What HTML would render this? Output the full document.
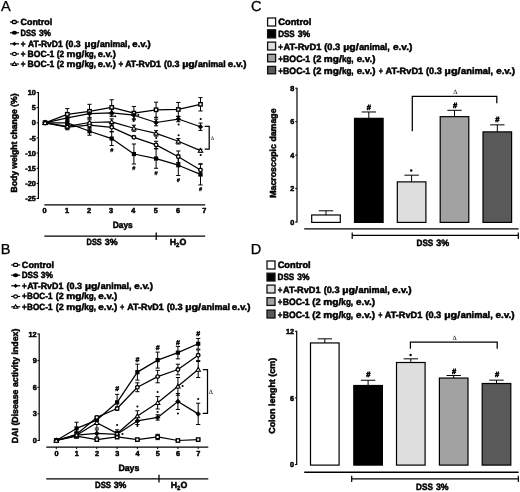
<!DOCTYPE html>
<html lang="en">
<head>
<meta charset="utf-8">
<title>Figure</title>
<style>
html,body{margin:0;padding:0;background:#fff;}
body{width:520px;height:492px;overflow:hidden;font-family:'Liberation Sans', sans-serif;}
svg{display:block;}
svg text{font-family:'Liberation Sans',sans-serif;}
</style>
</head>
<body>
<svg width="520" height="492" viewBox="0 0 520 492" text-rendering="geometricPrecision">
<rect x="0" y="0" width="520" height="492" fill="#ffffff"/>
<text x="1.00" y="11.30" font-size="14.5" font-weight="normal" text-anchor="start" fill="#000" stroke="#000" stroke-width="0.3" stroke-linejoin="round">A</text>
<line x1="9.90" y1="22.00" x2="18.90" y2="22.00" stroke="#000" stroke-width="1.2" stroke-linecap="butt"/>
<rect x="12.30" y="20.50" width="4.0" height="3.0" rx="1" fill="#fff" stroke="#000" stroke-width="1.3"/>
<text y="24.80" font-size="9.0" font-weight="bold" fill="#000" stroke="#000" stroke-width="0.5" stroke-linejoin="round"><tspan x="20.59" textLength="31.62" lengthAdjust="spacingAndGlyphs">Control</tspan></text>
<line x1="10.00" y1="32.80" x2="19.00" y2="32.80" stroke="#000" stroke-width="1.2" stroke-linecap="butt"/>
<ellipse cx="14.40" cy="32.80" rx="2.6" ry="2.0" fill="#000"/>
<text y="35.60" font-size="9.0" font-weight="bold" fill="#000" stroke="#000" stroke-width="0.5" stroke-linejoin="round"><tspan x="20.56" textLength="15.57" lengthAdjust="spacingAndGlyphs">DSS</tspan> <tspan x="38.94" textLength="12.12" lengthAdjust="spacingAndGlyphs">3%</tspan></text>
<line x1="10.00" y1="43.80" x2="19.00" y2="43.80" stroke="#000" stroke-width="1.2" stroke-linecap="butt"/>
<polygon points="14.40,41.70 16.60,43.80 14.40,45.90 12.20,43.80" fill="#000"/>
<text y="46.60" font-size="9.0" font-weight="bold" fill="#000" stroke="#000" stroke-width="0.5" stroke-linejoin="round"><tspan x="20.73" textLength="4.74" lengthAdjust="spacingAndGlyphs">+</tspan> <tspan x="27.94" textLength="34.75" lengthAdjust="spacingAndGlyphs">AT-RvD1</tspan> <tspan x="65.61" textLength="15.07" lengthAdjust="spacingAndGlyphs">(0.3</tspan> <tspan x="84.59" textLength="14.89" lengthAdjust="spacingAndGlyphs">µg/</tspan><tspan x="100.00" textLength="29.92" lengthAdjust="spacingAndGlyphs">animal,</tspan> <tspan x="132.37" textLength="18.43" lengthAdjust="spacingAndGlyphs">e.v.)</tspan></text>
<line x1="10.00" y1="53.90" x2="19.00" y2="53.90" stroke="#000" stroke-width="1.2" stroke-linecap="butt"/>
<ellipse cx="14.40" cy="53.90" rx="1.9" ry="1.6" fill="#fff" stroke="#000" stroke-width="1.2"/>
<text y="56.70" font-size="9.0" font-weight="bold" fill="#000" stroke="#000" stroke-width="0.5" stroke-linejoin="round"><tspan x="20.73" textLength="4.74" lengthAdjust="spacingAndGlyphs">+</tspan> <tspan x="27.59" textLength="26.74" lengthAdjust="spacingAndGlyphs">BOC-1</tspan> <tspan x="56.73" textLength="7.45" lengthAdjust="spacingAndGlyphs">(2</tspan> <tspan x="66.60" textLength="17.76" lengthAdjust="spacingAndGlyphs">mg/</tspan><tspan x="84.42" textLength="11.60" lengthAdjust="spacingAndGlyphs">kg,</tspan> <tspan x="97.78" textLength="18.01" lengthAdjust="spacingAndGlyphs">e.v.)</tspan></text>
<line x1="10.00" y1="64.00" x2="19.00" y2="64.00" stroke="#000" stroke-width="1.2" stroke-linecap="butt"/>
<polygon points="14.40,62.00 16.50,65.50 12.30,65.50" fill="#fff" stroke="#000" stroke-width="1.1"/>
<text y="66.80" font-size="9.0" font-weight="bold" fill="#000" stroke="#000" stroke-width="0.5" stroke-linejoin="round"><tspan x="20.73" textLength="4.74" lengthAdjust="spacingAndGlyphs">+</tspan> <tspan x="27.59" textLength="26.74" lengthAdjust="spacingAndGlyphs">BOC-1</tspan> <tspan x="56.73" textLength="7.45" lengthAdjust="spacingAndGlyphs">(2</tspan> <tspan x="66.60" textLength="17.76" lengthAdjust="spacingAndGlyphs">mg/</tspan><tspan x="84.42" textLength="11.60" lengthAdjust="spacingAndGlyphs">kg,</tspan> <tspan x="97.78" textLength="18.01" lengthAdjust="spacingAndGlyphs">e.v.)</tspan> <tspan x="118.43" textLength="4.74" lengthAdjust="spacingAndGlyphs">+</tspan> <tspan x="125.18" textLength="35.82" lengthAdjust="spacingAndGlyphs">AT-RvD1</tspan> <tspan x="163.95" textLength="15.49" lengthAdjust="spacingAndGlyphs">(0.3</tspan> <tspan x="182.17" textLength="15.32" lengthAdjust="spacingAndGlyphs">µg/</tspan><tspan x="197.98" textLength="27.61" lengthAdjust="spacingAndGlyphs">animal</tspan> <tspan x="227.86" textLength="18.69" lengthAdjust="spacingAndGlyphs">e.v.)</tspan></text>
<line x1="38.40" y1="92.00" x2="38.40" y2="199.05" stroke="#000" stroke-width="1.2" stroke-linecap="butt"/>
<line x1="36.60" y1="92.50" x2="38.40" y2="92.50" stroke="#000" stroke-width="1.0" stroke-linecap="butt"/>
<text x="35.90" y="95.10" font-size="7.3" font-weight="bold" text-anchor="end" fill="#000" stroke="#000" stroke-width="0.5" stroke-linejoin="round">10</text>
<line x1="36.60" y1="107.65" x2="38.40" y2="107.65" stroke="#000" stroke-width="1.0" stroke-linecap="butt"/>
<text x="35.90" y="110.25" font-size="7.3" font-weight="bold" text-anchor="end" fill="#000" stroke="#000" stroke-width="0.5" stroke-linejoin="round">5</text>
<line x1="36.60" y1="122.80" x2="38.40" y2="122.80" stroke="#000" stroke-width="1.0" stroke-linecap="butt"/>
<text x="35.90" y="125.40" font-size="7.3" font-weight="bold" text-anchor="end" fill="#000" stroke="#000" stroke-width="0.5" stroke-linejoin="round">0</text>
<line x1="36.60" y1="137.95" x2="38.40" y2="137.95" stroke="#000" stroke-width="1.0" stroke-linecap="butt"/>
<text x="35.90" y="140.55" font-size="7.3" font-weight="bold" text-anchor="end" fill="#000" stroke="#000" stroke-width="0.5" stroke-linejoin="round">-5</text>
<line x1="36.60" y1="153.10" x2="38.40" y2="153.10" stroke="#000" stroke-width="1.0" stroke-linecap="butt"/>
<text x="35.90" y="155.70" font-size="7.3" font-weight="bold" text-anchor="end" fill="#000" stroke="#000" stroke-width="0.5" stroke-linejoin="round">-10</text>
<line x1="36.60" y1="168.25" x2="38.40" y2="168.25" stroke="#000" stroke-width="1.0" stroke-linecap="butt"/>
<text x="35.90" y="170.85" font-size="7.3" font-weight="bold" text-anchor="end" fill="#000" stroke="#000" stroke-width="0.5" stroke-linejoin="round">-15</text>
<line x1="36.60" y1="183.40" x2="38.40" y2="183.40" stroke="#000" stroke-width="1.0" stroke-linecap="butt"/>
<text x="35.90" y="186.00" font-size="7.3" font-weight="bold" text-anchor="end" fill="#000" stroke="#000" stroke-width="0.5" stroke-linejoin="round">-20</text>
<line x1="36.60" y1="198.55" x2="38.40" y2="198.55" stroke="#000" stroke-width="1.0" stroke-linecap="butt"/>
<text x="35.90" y="201.15" font-size="7.3" font-weight="bold" text-anchor="end" fill="#000" stroke="#000" stroke-width="0.5" stroke-linejoin="round">-25</text>
<line x1="44.30" y1="204.80" x2="205.20" y2="204.80" stroke="#000" stroke-width="1.3" stroke-linecap="butt"/>
<text x="44.60" y="213.30" font-size="7.3" font-weight="bold" text-anchor="middle" fill="#000" stroke="#000" stroke-width="0.5" stroke-linejoin="round">0</text>
<text x="67.00" y="213.30" font-size="7.3" font-weight="bold" text-anchor="middle" fill="#000" stroke="#000" stroke-width="0.5" stroke-linejoin="round">1</text>
<text x="89.00" y="213.30" font-size="7.3" font-weight="bold" text-anchor="middle" fill="#000" stroke="#000" stroke-width="0.5" stroke-linejoin="round">2</text>
<text x="111.00" y="213.30" font-size="7.3" font-weight="bold" text-anchor="middle" fill="#000" stroke="#000" stroke-width="0.5" stroke-linejoin="round">3</text>
<text x="133.20" y="213.30" font-size="7.3" font-weight="bold" text-anchor="middle" fill="#000" stroke="#000" stroke-width="0.5" stroke-linejoin="round">4</text>
<text x="155.70" y="213.30" font-size="7.3" font-weight="bold" text-anchor="middle" fill="#000" stroke="#000" stroke-width="0.5" stroke-linejoin="round">5</text>
<text x="178.00" y="213.30" font-size="7.3" font-weight="bold" text-anchor="middle" fill="#000" stroke="#000" stroke-width="0.5" stroke-linejoin="round">6</text>
<text x="204.20" y="213.30" font-size="7.3" font-weight="bold" text-anchor="middle" fill="#000" stroke="#000" stroke-width="0.5" stroke-linejoin="round">7</text>
<text y="228.00" font-size="9.0" font-weight="bold" fill="#000" stroke="#000" stroke-width="0.5" stroke-linejoin="round"><tspan x="112.71" textLength="19.98" lengthAdjust="spacingAndGlyphs">Days</tspan></text>
<text transform="translate(17.00,143.00) rotate(-90)" font-size="8.8" font-weight="bold" text-anchor="middle" fill="#000" stroke="#000" stroke-width="0.5" stroke-linejoin="round" textLength="99.00" lengthAdjust="spacingAndGlyphs">Body weight change (%)</text>
<line x1="44.30" y1="236.20" x2="205.20" y2="236.20" stroke="#000" stroke-width="1.2" stroke-linecap="butt"/>
<line x1="156.20" y1="232.40" x2="156.20" y2="240.00" stroke="#000" stroke-width="1.3" stroke-linecap="butt"/>
<text y="245.40" font-size="9.0" font-weight="bold" fill="#000" stroke="#000" stroke-width="0.5" stroke-linejoin="round"><tspan x="86.57" textLength="15.15" lengthAdjust="spacingAndGlyphs">DSS</tspan> <tspan x="104.68" textLength="12.90" lengthAdjust="spacingAndGlyphs">3%</tspan></text>
<text x="178" y="245.2" font-size="8.8" font-weight="bold" text-anchor="middle" fill="#000" stroke="#000" stroke-width="0.5">H<tspan font-size="6" dy="1.6">2</tspan><tspan dy="-1.6">O</tspan></text>
<line x1="67.30" y1="108.56" x2="67.30" y2="120.07" stroke="#000" stroke-width="1.0" stroke-linecap="butt"/>
<line x1="65.20" y1="108.56" x2="69.40" y2="108.56" stroke="#000" stroke-width="1.0" stroke-linecap="butt"/>
<line x1="65.20" y1="120.07" x2="69.40" y2="120.07" stroke="#000" stroke-width="1.0" stroke-linecap="butt"/>
<line x1="89.50" y1="104.32" x2="89.50" y2="118.25" stroke="#000" stroke-width="1.0" stroke-linecap="butt"/>
<line x1="87.40" y1="104.32" x2="91.60" y2="104.32" stroke="#000" stroke-width="1.0" stroke-linecap="butt"/>
<line x1="87.40" y1="118.25" x2="91.60" y2="118.25" stroke="#000" stroke-width="1.0" stroke-linecap="butt"/>
<line x1="111.70" y1="99.77" x2="111.70" y2="114.92" stroke="#000" stroke-width="1.0" stroke-linecap="butt"/>
<line x1="109.60" y1="99.77" x2="113.80" y2="99.77" stroke="#000" stroke-width="1.0" stroke-linecap="butt"/>
<line x1="109.60" y1="114.92" x2="113.80" y2="114.92" stroke="#000" stroke-width="1.0" stroke-linecap="butt"/>
<line x1="133.90" y1="106.44" x2="133.90" y2="119.77" stroke="#000" stroke-width="1.0" stroke-linecap="butt"/>
<line x1="131.80" y1="106.44" x2="136.00" y2="106.44" stroke="#000" stroke-width="1.0" stroke-linecap="butt"/>
<line x1="131.80" y1="119.77" x2="136.00" y2="119.77" stroke="#000" stroke-width="1.0" stroke-linecap="butt"/>
<line x1="156.10" y1="102.20" x2="156.10" y2="117.35" stroke="#000" stroke-width="1.0" stroke-linecap="butt"/>
<line x1="154.00" y1="102.20" x2="158.20" y2="102.20" stroke="#000" stroke-width="1.0" stroke-linecap="butt"/>
<line x1="154.00" y1="117.35" x2="158.20" y2="117.35" stroke="#000" stroke-width="1.0" stroke-linecap="butt"/>
<line x1="178.30" y1="102.50" x2="178.30" y2="116.44" stroke="#000" stroke-width="1.0" stroke-linecap="butt"/>
<line x1="176.20" y1="102.50" x2="180.40" y2="102.50" stroke="#000" stroke-width="1.0" stroke-linecap="butt"/>
<line x1="176.20" y1="116.44" x2="180.40" y2="116.44" stroke="#000" stroke-width="1.0" stroke-linecap="butt"/>
<line x1="200.50" y1="97.65" x2="200.50" y2="110.98" stroke="#000" stroke-width="1.0" stroke-linecap="butt"/>
<line x1="198.40" y1="97.65" x2="202.60" y2="97.65" stroke="#000" stroke-width="1.0" stroke-linecap="butt"/>
<line x1="198.40" y1="110.98" x2="202.60" y2="110.98" stroke="#000" stroke-width="1.0" stroke-linecap="butt"/>
<line x1="67.30" y1="119.77" x2="67.30" y2="125.83" stroke="#000" stroke-width="1.0" stroke-linecap="butt"/>
<line x1="65.20" y1="119.77" x2="69.40" y2="119.77" stroke="#000" stroke-width="1.0" stroke-linecap="butt"/>
<line x1="65.20" y1="125.83" x2="69.40" y2="125.83" stroke="#000" stroke-width="1.0" stroke-linecap="butt"/>
<line x1="89.50" y1="127.34" x2="89.50" y2="135.22" stroke="#000" stroke-width="1.0" stroke-linecap="butt"/>
<line x1="87.40" y1="127.34" x2="91.60" y2="127.34" stroke="#000" stroke-width="1.0" stroke-linecap="butt"/>
<line x1="87.40" y1="135.22" x2="91.60" y2="135.22" stroke="#000" stroke-width="1.0" stroke-linecap="butt"/>
<line x1="111.70" y1="131.59" x2="111.70" y2="145.53" stroke="#000" stroke-width="1.0" stroke-linecap="butt"/>
<line x1="109.60" y1="131.59" x2="113.80" y2="131.59" stroke="#000" stroke-width="1.0" stroke-linecap="butt"/>
<line x1="109.60" y1="145.53" x2="113.80" y2="145.53" stroke="#000" stroke-width="1.0" stroke-linecap="butt"/>
<line x1="133.90" y1="144.01" x2="133.90" y2="164.01" stroke="#000" stroke-width="1.0" stroke-linecap="butt"/>
<line x1="131.80" y1="144.01" x2="136.00" y2="144.01" stroke="#000" stroke-width="1.0" stroke-linecap="butt"/>
<line x1="131.80" y1="164.01" x2="136.00" y2="164.01" stroke="#000" stroke-width="1.0" stroke-linecap="butt"/>
<line x1="156.10" y1="148.86" x2="156.10" y2="168.25" stroke="#000" stroke-width="1.0" stroke-linecap="butt"/>
<line x1="154.00" y1="148.86" x2="158.20" y2="148.86" stroke="#000" stroke-width="1.0" stroke-linecap="butt"/>
<line x1="154.00" y1="168.25" x2="158.20" y2="168.25" stroke="#000" stroke-width="1.0" stroke-linecap="butt"/>
<line x1="178.30" y1="154.92" x2="178.30" y2="175.52" stroke="#000" stroke-width="1.0" stroke-linecap="butt"/>
<line x1="176.20" y1="154.92" x2="180.40" y2="154.92" stroke="#000" stroke-width="1.0" stroke-linecap="butt"/>
<line x1="176.20" y1="175.52" x2="180.40" y2="175.52" stroke="#000" stroke-width="1.0" stroke-linecap="butt"/>
<line x1="200.50" y1="163.70" x2="200.50" y2="184.91" stroke="#000" stroke-width="1.0" stroke-linecap="butt"/>
<line x1="198.40" y1="163.70" x2="202.60" y2="163.70" stroke="#000" stroke-width="1.0" stroke-linecap="butt"/>
<line x1="198.40" y1="184.91" x2="202.60" y2="184.91" stroke="#000" stroke-width="1.0" stroke-linecap="butt"/>
<line x1="67.30" y1="114.92" x2="67.30" y2="120.98" stroke="#000" stroke-width="1.0" stroke-linecap="butt"/>
<line x1="65.20" y1="114.92" x2="69.40" y2="114.92" stroke="#000" stroke-width="1.0" stroke-linecap="butt"/>
<line x1="65.20" y1="120.98" x2="69.40" y2="120.98" stroke="#000" stroke-width="1.0" stroke-linecap="butt"/>
<line x1="89.50" y1="110.07" x2="89.50" y2="117.35" stroke="#000" stroke-width="1.0" stroke-linecap="butt"/>
<line x1="87.40" y1="110.07" x2="91.60" y2="110.07" stroke="#000" stroke-width="1.0" stroke-linecap="butt"/>
<line x1="87.40" y1="117.35" x2="91.60" y2="117.35" stroke="#000" stroke-width="1.0" stroke-linecap="butt"/>
<line x1="111.70" y1="109.16" x2="111.70" y2="116.44" stroke="#000" stroke-width="1.0" stroke-linecap="butt"/>
<line x1="109.60" y1="109.16" x2="113.80" y2="109.16" stroke="#000" stroke-width="1.0" stroke-linecap="butt"/>
<line x1="109.60" y1="116.44" x2="113.80" y2="116.44" stroke="#000" stroke-width="1.0" stroke-linecap="butt"/>
<line x1="133.90" y1="111.59" x2="133.90" y2="118.86" stroke="#000" stroke-width="1.0" stroke-linecap="butt"/>
<line x1="131.80" y1="111.59" x2="136.00" y2="111.59" stroke="#000" stroke-width="1.0" stroke-linecap="butt"/>
<line x1="131.80" y1="118.86" x2="136.00" y2="118.86" stroke="#000" stroke-width="1.0" stroke-linecap="butt"/>
<line x1="156.10" y1="119.16" x2="156.10" y2="125.83" stroke="#000" stroke-width="1.0" stroke-linecap="butt"/>
<line x1="154.00" y1="119.16" x2="158.20" y2="119.16" stroke="#000" stroke-width="1.0" stroke-linecap="butt"/>
<line x1="154.00" y1="125.83" x2="158.20" y2="125.83" stroke="#000" stroke-width="1.0" stroke-linecap="butt"/>
<line x1="178.30" y1="116.29" x2="178.30" y2="121.74" stroke="#000" stroke-width="1.0" stroke-linecap="butt"/>
<line x1="176.20" y1="116.29" x2="180.40" y2="116.29" stroke="#000" stroke-width="1.0" stroke-linecap="butt"/>
<line x1="176.20" y1="121.74" x2="180.40" y2="121.74" stroke="#000" stroke-width="1.0" stroke-linecap="butt"/>
<line x1="200.50" y1="123.10" x2="200.50" y2="130.38" stroke="#000" stroke-width="1.0" stroke-linecap="butt"/>
<line x1="198.40" y1="123.10" x2="202.60" y2="123.10" stroke="#000" stroke-width="1.0" stroke-linecap="butt"/>
<line x1="198.40" y1="130.38" x2="202.60" y2="130.38" stroke="#000" stroke-width="1.0" stroke-linecap="butt"/>
<line x1="67.30" y1="124.31" x2="67.30" y2="129.77" stroke="#000" stroke-width="1.0" stroke-linecap="butt"/>
<line x1="65.20" y1="124.31" x2="69.40" y2="124.31" stroke="#000" stroke-width="1.0" stroke-linecap="butt"/>
<line x1="65.20" y1="129.77" x2="69.40" y2="129.77" stroke="#000" stroke-width="1.0" stroke-linecap="butt"/>
<line x1="89.50" y1="122.19" x2="89.50" y2="128.25" stroke="#000" stroke-width="1.0" stroke-linecap="butt"/>
<line x1="87.40" y1="122.19" x2="91.60" y2="122.19" stroke="#000" stroke-width="1.0" stroke-linecap="butt"/>
<line x1="87.40" y1="128.25" x2="91.60" y2="128.25" stroke="#000" stroke-width="1.0" stroke-linecap="butt"/>
<line x1="111.70" y1="122.80" x2="111.70" y2="131.89" stroke="#000" stroke-width="1.0" stroke-linecap="butt"/>
<line x1="109.60" y1="122.80" x2="113.80" y2="122.80" stroke="#000" stroke-width="1.0" stroke-linecap="butt"/>
<line x1="109.60" y1="131.89" x2="113.80" y2="131.89" stroke="#000" stroke-width="1.0" stroke-linecap="butt"/>
<line x1="133.90" y1="136.44" x2="133.90" y2="138.25" stroke="#000" stroke-width="1.0" stroke-linecap="butt"/>
<line x1="131.80" y1="136.44" x2="136.00" y2="136.44" stroke="#000" stroke-width="1.0" stroke-linecap="butt"/>
<line x1="131.80" y1="138.25" x2="136.00" y2="138.25" stroke="#000" stroke-width="1.0" stroke-linecap="butt"/>
<line x1="156.10" y1="141.28" x2="156.10" y2="148.56" stroke="#000" stroke-width="1.0" stroke-linecap="butt"/>
<line x1="154.00" y1="141.28" x2="158.20" y2="141.28" stroke="#000" stroke-width="1.0" stroke-linecap="butt"/>
<line x1="154.00" y1="148.56" x2="158.20" y2="148.56" stroke="#000" stroke-width="1.0" stroke-linecap="butt"/>
<line x1="178.30" y1="150.98" x2="178.30" y2="162.49" stroke="#000" stroke-width="1.0" stroke-linecap="butt"/>
<line x1="176.20" y1="150.98" x2="180.40" y2="150.98" stroke="#000" stroke-width="1.0" stroke-linecap="butt"/>
<line x1="176.20" y1="162.49" x2="180.40" y2="162.49" stroke="#000" stroke-width="1.0" stroke-linecap="butt"/>
<line x1="200.50" y1="164.31" x2="200.50" y2="175.82" stroke="#000" stroke-width="1.0" stroke-linecap="butt"/>
<line x1="198.40" y1="164.31" x2="202.60" y2="164.31" stroke="#000" stroke-width="1.0" stroke-linecap="butt"/>
<line x1="198.40" y1="175.82" x2="202.60" y2="175.82" stroke="#000" stroke-width="1.0" stroke-linecap="butt"/>
<line x1="67.30" y1="124.01" x2="67.30" y2="128.86" stroke="#000" stroke-width="1.0" stroke-linecap="butt"/>
<line x1="65.20" y1="124.01" x2="69.40" y2="124.01" stroke="#000" stroke-width="1.0" stroke-linecap="butt"/>
<line x1="65.20" y1="128.86" x2="69.40" y2="128.86" stroke="#000" stroke-width="1.0" stroke-linecap="butt"/>
<line x1="89.50" y1="119.77" x2="89.50" y2="125.22" stroke="#000" stroke-width="1.0" stroke-linecap="butt"/>
<line x1="87.40" y1="119.77" x2="91.60" y2="119.77" stroke="#000" stroke-width="1.0" stroke-linecap="butt"/>
<line x1="87.40" y1="125.22" x2="91.60" y2="125.22" stroke="#000" stroke-width="1.0" stroke-linecap="butt"/>
<line x1="111.70" y1="118.86" x2="111.70" y2="124.92" stroke="#000" stroke-width="1.0" stroke-linecap="butt"/>
<line x1="109.60" y1="118.86" x2="113.80" y2="118.86" stroke="#000" stroke-width="1.0" stroke-linecap="butt"/>
<line x1="109.60" y1="124.92" x2="113.80" y2="124.92" stroke="#000" stroke-width="1.0" stroke-linecap="butt"/>
<line x1="133.90" y1="125.22" x2="133.90" y2="131.28" stroke="#000" stroke-width="1.0" stroke-linecap="butt"/>
<line x1="131.80" y1="125.22" x2="136.00" y2="125.22" stroke="#000" stroke-width="1.0" stroke-linecap="butt"/>
<line x1="131.80" y1="131.28" x2="136.00" y2="131.28" stroke="#000" stroke-width="1.0" stroke-linecap="butt"/>
<line x1="156.10" y1="130.68" x2="156.10" y2="136.13" stroke="#000" stroke-width="1.0" stroke-linecap="butt"/>
<line x1="154.00" y1="130.68" x2="158.20" y2="130.68" stroke="#000" stroke-width="1.0" stroke-linecap="butt"/>
<line x1="154.00" y1="136.13" x2="158.20" y2="136.13" stroke="#000" stroke-width="1.0" stroke-linecap="butt"/>
<line x1="178.30" y1="138.56" x2="178.30" y2="144.01" stroke="#000" stroke-width="1.0" stroke-linecap="butt"/>
<line x1="176.20" y1="138.56" x2="180.40" y2="138.56" stroke="#000" stroke-width="1.0" stroke-linecap="butt"/>
<line x1="176.20" y1="144.01" x2="180.40" y2="144.01" stroke="#000" stroke-width="1.0" stroke-linecap="butt"/>
<line x1="200.50" y1="149.16" x2="200.50" y2="152.19" stroke="#000" stroke-width="1.0" stroke-linecap="butt"/>
<line x1="198.40" y1="149.16" x2="202.60" y2="149.16" stroke="#000" stroke-width="1.0" stroke-linecap="butt"/>
<line x1="198.40" y1="152.19" x2="202.60" y2="152.19" stroke="#000" stroke-width="1.0" stroke-linecap="butt"/>
<polyline points="45.10,122.80 67.30,114.32 89.50,111.29 111.70,107.35 133.90,113.10 156.10,109.77 178.30,109.47 200.50,104.32" fill="none" stroke="#000" stroke-width="1.25" stroke-linejoin="round"/>
<polyline points="45.10,122.80 67.30,122.80 89.50,131.28 111.70,138.56 133.90,154.01 156.10,158.55 178.30,165.22 200.50,174.31" fill="none" stroke="#000" stroke-width="1.25" stroke-linejoin="round"/>
<polyline points="45.10,122.80 67.30,117.95 89.50,113.71 111.70,112.80 133.90,115.22 156.10,122.50 178.30,119.01 200.50,126.74" fill="none" stroke="#000" stroke-width="1.25" stroke-linejoin="round"/>
<polyline points="45.10,122.80 67.30,127.04 89.50,125.22 111.70,127.34 133.90,137.34 156.10,144.92 178.30,156.74 200.50,170.07" fill="none" stroke="#000" stroke-width="1.25" stroke-linejoin="round"/>
<polyline points="45.10,122.80 67.30,126.44 89.50,122.50 111.70,121.89 133.90,128.25 156.10,133.41 178.30,141.28 200.50,150.68" fill="none" stroke="#000" stroke-width="1.25" stroke-linejoin="round"/>
<rect x="43.40" y="121.10" width="3.40" height="3.40" fill="#fff" stroke="#000" stroke-width="1.35"/>
<rect x="65.60" y="112.62" width="3.40" height="3.40" fill="#fff" stroke="#000" stroke-width="1.35"/>
<rect x="87.80" y="109.59" width="3.40" height="3.40" fill="#fff" stroke="#000" stroke-width="1.35"/>
<rect x="110.00" y="105.65" width="3.40" height="3.40" fill="#fff" stroke="#000" stroke-width="1.35"/>
<rect x="132.20" y="111.40" width="3.40" height="3.40" fill="#fff" stroke="#000" stroke-width="1.35"/>
<rect x="154.40" y="108.07" width="3.40" height="3.40" fill="#fff" stroke="#000" stroke-width="1.35"/>
<rect x="176.60" y="107.77" width="3.40" height="3.40" fill="#fff" stroke="#000" stroke-width="1.35"/>
<rect x="198.80" y="102.62" width="3.40" height="3.40" fill="#fff" stroke="#000" stroke-width="1.35"/>
<rect x="43.00" y="120.70" width="4.20" height="4.20" fill="#000"/>
<rect x="65.20" y="120.70" width="4.20" height="4.20" fill="#000"/>
<rect x="87.40" y="129.18" width="4.20" height="4.20" fill="#000"/>
<rect x="109.60" y="136.46" width="4.20" height="4.20" fill="#000"/>
<rect x="131.80" y="151.91" width="4.20" height="4.20" fill="#000"/>
<rect x="154.00" y="156.45" width="4.20" height="4.20" fill="#000"/>
<rect x="176.20" y="163.12" width="4.20" height="4.20" fill="#000"/>
<rect x="198.40" y="172.21" width="4.20" height="4.20" fill="#000"/>
<polygon points="45.10,120.40 47.50,122.80 45.10,125.20 42.70,122.80" fill="#000" stroke="#000" stroke-width="0.6" stroke-linejoin="round"/>
<polygon points="67.30,115.55 69.70,117.95 67.30,120.35 64.90,117.95" fill="#000" stroke="#000" stroke-width="0.6" stroke-linejoin="round"/>
<polygon points="89.50,111.31 91.90,113.71 89.50,116.11 87.10,113.71" fill="#000" stroke="#000" stroke-width="0.6" stroke-linejoin="round"/>
<polygon points="111.70,110.40 114.10,112.80 111.70,115.20 109.30,112.80" fill="#000" stroke="#000" stroke-width="0.6" stroke-linejoin="round"/>
<polygon points="133.90,112.82 136.30,115.22 133.90,117.62 131.50,115.22" fill="#000" stroke="#000" stroke-width="0.6" stroke-linejoin="round"/>
<polygon points="156.10,120.10 158.50,122.50 156.10,124.90 153.70,122.50" fill="#000" stroke="#000" stroke-width="0.6" stroke-linejoin="round"/>
<polygon points="178.30,116.61 180.70,119.01 178.30,121.41 175.90,119.01" fill="#000" stroke="#000" stroke-width="0.6" stroke-linejoin="round"/>
<polygon points="200.50,124.34 202.90,126.74 200.50,129.14 198.10,126.74" fill="#000" stroke="#000" stroke-width="0.6" stroke-linejoin="round"/>
<circle cx="45.10" cy="122.80" r="1.80" fill="#fff" stroke="#000" stroke-width="1.35"/>
<circle cx="67.30" cy="127.04" r="1.80" fill="#fff" stroke="#000" stroke-width="1.35"/>
<circle cx="89.50" cy="125.22" r="1.80" fill="#fff" stroke="#000" stroke-width="1.35"/>
<circle cx="111.70" cy="127.34" r="1.80" fill="#fff" stroke="#000" stroke-width="1.35"/>
<circle cx="133.90" cy="137.34" r="1.80" fill="#fff" stroke="#000" stroke-width="1.35"/>
<circle cx="156.10" cy="144.92" r="1.80" fill="#fff" stroke="#000" stroke-width="1.35"/>
<circle cx="178.30" cy="156.74" r="1.80" fill="#fff" stroke="#000" stroke-width="1.35"/>
<circle cx="200.50" cy="170.07" r="1.80" fill="#fff" stroke="#000" stroke-width="1.35"/>
<polygon points="45.10,120.60 47.30,124.45 42.90,124.45" fill="#fff" stroke="#000" stroke-width="1.05" stroke-linejoin="miter"/>
<polygon points="67.30,124.24 69.50,128.09 65.10,128.09" fill="#fff" stroke="#000" stroke-width="1.05" stroke-linejoin="miter"/>
<polygon points="89.50,120.30 91.70,124.15 87.30,124.15" fill="#fff" stroke="#000" stroke-width="1.05" stroke-linejoin="miter"/>
<polygon points="111.70,119.69 113.90,123.54 109.50,123.54" fill="#fff" stroke="#000" stroke-width="1.05" stroke-linejoin="miter"/>
<polygon points="133.90,126.05 136.10,129.90 131.70,129.90" fill="#fff" stroke="#000" stroke-width="1.05" stroke-linejoin="miter"/>
<polygon points="156.10,131.21 158.30,135.06 153.90,135.06" fill="#fff" stroke="#000" stroke-width="1.05" stroke-linejoin="miter"/>
<polygon points="178.30,139.08 180.50,142.93 176.10,142.93" fill="#fff" stroke="#000" stroke-width="1.05" stroke-linejoin="miter"/>
<polygon points="200.50,148.48 202.70,152.33 198.30,152.33" fill="#fff" stroke="#000" stroke-width="1.05" stroke-linejoin="miter"/>
<text x="111.70" y="152.10" font-size="5.6" font-weight="bold" text-anchor="middle" fill="#000" stroke="#000" stroke-width="0.3" stroke-linejoin="round">#</text>
<text x="133.90" y="170.30" font-size="5.6" font-weight="bold" text-anchor="middle" fill="#000" stroke="#000" stroke-width="0.3" stroke-linejoin="round">#</text>
<text x="156.10" y="174.60" font-size="5.6" font-weight="bold" text-anchor="middle" fill="#000" stroke="#000" stroke-width="0.3" stroke-linejoin="round">#</text>
<text x="178.30" y="182.40" font-size="5.6" font-weight="bold" text-anchor="middle" fill="#000" stroke="#000" stroke-width="0.3" stroke-linejoin="round">#</text>
<text x="200.50" y="191.30" font-size="5.6" font-weight="bold" text-anchor="middle" fill="#000" stroke="#000" stroke-width="0.3" stroke-linejoin="round">#</text>
<circle cx="115.20" cy="116.20" r="1.05" fill="#000"/>
<circle cx="138.30" cy="115.00" r="1.05" fill="#000"/>
<circle cx="133.70" cy="120.90" r="1.05" fill="#000"/>
<circle cx="156.20" cy="117.60" r="1.05" fill="#000"/>
<circle cx="156.20" cy="138.00" r="1.05" fill="#000"/>
<circle cx="178.60" cy="124.50" r="1.05" fill="#000"/>
<circle cx="178.60" cy="135.30" r="1.05" fill="#000"/>
<circle cx="200.70" cy="119.00" r="1.05" fill="#000"/>
<circle cx="200.70" cy="155.00" r="1.05" fill="#000"/>
<polyline points="204.7,126.3 209.2,126.3 209.2,149.2 204.7,149.2" fill="none" stroke="#000" stroke-width="1.25"/>
<text x="212.40" y="139.80" font-size="5.2" font-weight="normal" text-anchor="middle" fill="#000" style="font-family:'Liberation Serif',serif">Δ</text>
<text x="0.80" y="254.00" font-size="14.5" font-weight="normal" text-anchor="start" fill="#000" stroke="#000" stroke-width="0.3" stroke-linejoin="round">B</text>
<line x1="11.20" y1="264.95" x2="20.20" y2="264.95" stroke="#000" stroke-width="1.2" stroke-linecap="butt"/>
<rect x="13.60" y="263.45" width="4.0" height="3.0" rx="1" fill="#fff" stroke="#000" stroke-width="1.3"/>
<text y="267.75" font-size="9.0" font-weight="bold" fill="#000" stroke="#000" stroke-width="0.5" stroke-linejoin="round"><tspan x="21.89" textLength="32.03" lengthAdjust="spacingAndGlyphs">Control</tspan></text>
<line x1="11.20" y1="275.20" x2="20.20" y2="275.20" stroke="#000" stroke-width="1.2" stroke-linecap="butt"/>
<ellipse cx="15.60" cy="275.20" rx="2.6" ry="2.0" fill="#000"/>
<text y="278.00" font-size="9.0" font-weight="bold" fill="#000" stroke="#000" stroke-width="0.5" stroke-linejoin="round"><tspan x="21.72" textLength="16.67" lengthAdjust="spacingAndGlyphs">DSS</tspan> <tspan x="40.84" textLength="12.23" lengthAdjust="spacingAndGlyphs">3%</tspan></text>
<line x1="11.20" y1="285.80" x2="20.20" y2="285.80" stroke="#000" stroke-width="1.2" stroke-linecap="butt"/>
<polygon points="15.60,283.70 17.80,285.80 15.60,287.90 13.40,285.80" fill="#000"/>
<text y="288.60" font-size="9.0" font-weight="bold" fill="#000" stroke="#000" stroke-width="0.5" stroke-linejoin="round"><tspan x="21.93" textLength="4.74" lengthAdjust="spacingAndGlyphs">+</tspan> <tspan x="27.13" textLength="36.22" lengthAdjust="spacingAndGlyphs">AT-RvD1</tspan> <tspan x="66.45" textLength="15.49" lengthAdjust="spacingAndGlyphs">(0.3</tspan> <tspan x="84.97" textLength="15.30" lengthAdjust="spacingAndGlyphs">µg/</tspan><tspan x="100.80" textLength="30.74" lengthAdjust="spacingAndGlyphs">animal,</tspan> <tspan x="134.26" textLength="18.80" lengthAdjust="spacingAndGlyphs">e.v.)</tspan></text>
<line x1="11.20" y1="296.45" x2="20.20" y2="296.45" stroke="#000" stroke-width="1.2" stroke-linecap="butt"/>
<ellipse cx="15.60" cy="296.45" rx="1.9" ry="1.6" fill="#fff" stroke="#000" stroke-width="1.2"/>
<text y="299.25" font-size="9.0" font-weight="bold" fill="#000" stroke="#000" stroke-width="0.5" stroke-linejoin="round"><tspan x="21.93" textLength="4.74" lengthAdjust="spacingAndGlyphs">+</tspan> <tspan x="27.12" textLength="25.34" lengthAdjust="spacingAndGlyphs">BOC-1</tspan> <tspan x="55.80" textLength="8.00" lengthAdjust="spacingAndGlyphs">(2</tspan> <tspan x="66.24" textLength="18.04" lengthAdjust="spacingAndGlyphs">mg/</tspan><tspan x="84.34" textLength="11.78" lengthAdjust="spacingAndGlyphs">kg,</tspan> <tspan x="98.36" textLength="18.95" lengthAdjust="spacingAndGlyphs">e.v.)</tspan></text>
<line x1="11.20" y1="306.80" x2="20.20" y2="306.80" stroke="#000" stroke-width="1.2" stroke-linecap="butt"/>
<polygon points="15.60,304.80 17.70,308.30 13.50,308.30" fill="#fff" stroke="#000" stroke-width="1.1"/>
<text y="309.60" font-size="9.0" font-weight="bold" fill="#000" stroke="#000" stroke-width="0.5" stroke-linejoin="round"><tspan x="21.93" textLength="4.74" lengthAdjust="spacingAndGlyphs">+</tspan> <tspan x="27.12" textLength="25.34" lengthAdjust="spacingAndGlyphs">BOC-1</tspan> <tspan x="55.80" textLength="8.00" lengthAdjust="spacingAndGlyphs">(2</tspan> <tspan x="66.24" textLength="18.04" lengthAdjust="spacingAndGlyphs">mg/</tspan><tspan x="84.34" textLength="11.78" lengthAdjust="spacingAndGlyphs">kg,</tspan> <tspan x="98.36" textLength="18.95" lengthAdjust="spacingAndGlyphs">e.v.)</tspan> <tspan x="120.13" textLength="3.99" lengthAdjust="spacingAndGlyphs">+</tspan> <tspan x="127.33" textLength="36.37" lengthAdjust="spacingAndGlyphs">AT-RvD1</tspan> <tspan x="166.69" textLength="15.91" lengthAdjust="spacingAndGlyphs">(0.3</tspan> <tspan x="185.20" textLength="15.78" lengthAdjust="spacingAndGlyphs">µg/</tspan><tspan x="201.48" textLength="28.43" lengthAdjust="spacingAndGlyphs">animal</tspan> <tspan x="231.86" textLength="18.69" lengthAdjust="spacingAndGlyphs">e.v.)</tspan></text>
<line x1="39.20" y1="333.50" x2="39.20" y2="441.00" stroke="#000" stroke-width="1.2" stroke-linecap="butt"/>
<line x1="37.40" y1="440.50" x2="39.20" y2="440.50" stroke="#000" stroke-width="1.0" stroke-linecap="butt"/>
<text x="36.70" y="443.10" font-size="7.3" font-weight="bold" text-anchor="end" fill="#000" stroke="#000" stroke-width="0.5" stroke-linejoin="round">0</text>
<line x1="37.40" y1="413.88" x2="39.20" y2="413.88" stroke="#000" stroke-width="1.0" stroke-linecap="butt"/>
<text x="36.70" y="416.48" font-size="7.3" font-weight="bold" text-anchor="end" fill="#000" stroke="#000" stroke-width="0.5" stroke-linejoin="round">3</text>
<line x1="37.40" y1="387.25" x2="39.20" y2="387.25" stroke="#000" stroke-width="1.0" stroke-linecap="butt"/>
<text x="36.70" y="389.85" font-size="7.3" font-weight="bold" text-anchor="end" fill="#000" stroke="#000" stroke-width="0.5" stroke-linejoin="round">6</text>
<line x1="37.40" y1="360.62" x2="39.20" y2="360.62" stroke="#000" stroke-width="1.0" stroke-linecap="butt"/>
<text x="36.70" y="363.23" font-size="7.3" font-weight="bold" text-anchor="end" fill="#000" stroke="#000" stroke-width="0.5" stroke-linejoin="round">9</text>
<line x1="37.40" y1="334.00" x2="39.20" y2="334.00" stroke="#000" stroke-width="1.0" stroke-linecap="butt"/>
<text x="36.70" y="336.60" font-size="7.3" font-weight="bold" text-anchor="end" fill="#000" stroke="#000" stroke-width="0.5" stroke-linejoin="round">12</text>
<line x1="46.20" y1="447.10" x2="208.30" y2="447.10" stroke="#000" stroke-width="1.3" stroke-linecap="butt"/>
<line x1="56.30" y1="447.00" x2="56.30" y2="449.10" stroke="#000" stroke-width="1.0" stroke-linecap="butt"/>
<text x="56.50" y="456.30" font-size="7.3" font-weight="bold" text-anchor="middle" fill="#000" stroke="#000" stroke-width="0.5" stroke-linejoin="round">0</text>
<line x1="76.57" y1="447.00" x2="76.57" y2="449.10" stroke="#000" stroke-width="1.0" stroke-linecap="butt"/>
<text x="76.77" y="456.30" font-size="7.3" font-weight="bold" text-anchor="middle" fill="#000" stroke="#000" stroke-width="0.5" stroke-linejoin="round">1</text>
<line x1="96.84" y1="447.00" x2="96.84" y2="449.10" stroke="#000" stroke-width="1.0" stroke-linecap="butt"/>
<text x="97.04" y="456.30" font-size="7.3" font-weight="bold" text-anchor="middle" fill="#000" stroke="#000" stroke-width="0.5" stroke-linejoin="round">2</text>
<line x1="117.11" y1="447.00" x2="117.11" y2="449.10" stroke="#000" stroke-width="1.0" stroke-linecap="butt"/>
<text x="117.31" y="456.30" font-size="7.3" font-weight="bold" text-anchor="middle" fill="#000" stroke="#000" stroke-width="0.5" stroke-linejoin="round">3</text>
<line x1="137.38" y1="447.00" x2="137.38" y2="449.10" stroke="#000" stroke-width="1.0" stroke-linecap="butt"/>
<text x="137.58" y="456.30" font-size="7.3" font-weight="bold" text-anchor="middle" fill="#000" stroke="#000" stroke-width="0.5" stroke-linejoin="round">4</text>
<line x1="157.65" y1="447.00" x2="157.65" y2="449.10" stroke="#000" stroke-width="1.0" stroke-linecap="butt"/>
<text x="157.85" y="456.30" font-size="7.3" font-weight="bold" text-anchor="middle" fill="#000" stroke="#000" stroke-width="0.5" stroke-linejoin="round">5</text>
<line x1="177.92" y1="447.00" x2="177.92" y2="449.10" stroke="#000" stroke-width="1.0" stroke-linecap="butt"/>
<text x="178.12" y="456.30" font-size="7.3" font-weight="bold" text-anchor="middle" fill="#000" stroke="#000" stroke-width="0.5" stroke-linejoin="round">6</text>
<line x1="198.19" y1="447.00" x2="198.19" y2="449.10" stroke="#000" stroke-width="1.0" stroke-linecap="butt"/>
<text x="198.39" y="456.30" font-size="7.3" font-weight="bold" text-anchor="middle" fill="#000" stroke="#000" stroke-width="0.5" stroke-linejoin="round">7</text>
<text y="470.60" font-size="9.0" font-weight="bold" fill="#000" stroke="#000" stroke-width="0.5" stroke-linejoin="round"><tspan x="118.38" textLength="21.03" lengthAdjust="spacingAndGlyphs">Days</tspan></text>
<text transform="translate(17.80,385.90) rotate(-90)" font-size="8.8" font-weight="bold" text-anchor="middle" fill="#000" stroke="#000" stroke-width="0.5" stroke-linejoin="round" textLength="114.50" lengthAdjust="spacingAndGlyphs">DAI (Disease activity index)</text>
<line x1="46.20" y1="478.80" x2="208.30" y2="478.80" stroke="#000" stroke-width="1.2" stroke-linecap="butt"/>
<line x1="159.00" y1="474.80" x2="159.00" y2="482.60" stroke="#000" stroke-width="1.3" stroke-linecap="butt"/>
<text y="488.10" font-size="9.0" font-weight="bold" fill="#000" stroke="#000" stroke-width="0.5" stroke-linejoin="round"><tspan x="95.04" textLength="15.99" lengthAdjust="spacingAndGlyphs">DSS</tspan> <tspan x="113.73" textLength="12.74" lengthAdjust="spacingAndGlyphs">3%</tspan></text>
<text x="179" y="488.2" font-size="8.8" font-weight="bold" text-anchor="middle" fill="#000" stroke="#000" stroke-width="0.5">H<tspan font-size="6" dy="1.6">2</tspan><tspan dy="-1.6">O</tspan></text>
<line x1="76.57" y1="434.29" x2="76.57" y2="437.84" stroke="#000" stroke-width="1.0" stroke-linecap="butt"/>
<line x1="74.47" y1="434.29" x2="78.67" y2="434.29" stroke="#000" stroke-width="1.0" stroke-linecap="butt"/>
<line x1="74.47" y1="437.84" x2="78.67" y2="437.84" stroke="#000" stroke-width="1.0" stroke-linecap="butt"/>
<line x1="96.84" y1="438.73" x2="96.84" y2="440.50" stroke="#000" stroke-width="1.0" stroke-linecap="butt"/>
<line x1="94.74" y1="438.73" x2="98.94" y2="438.73" stroke="#000" stroke-width="1.0" stroke-linecap="butt"/>
<line x1="94.74" y1="440.50" x2="98.94" y2="440.50" stroke="#000" stroke-width="1.0" stroke-linecap="butt"/>
<line x1="117.11" y1="435.18" x2="117.11" y2="438.73" stroke="#000" stroke-width="1.0" stroke-linecap="butt"/>
<line x1="115.01" y1="435.18" x2="119.21" y2="435.18" stroke="#000" stroke-width="1.0" stroke-linecap="butt"/>
<line x1="115.01" y1="438.73" x2="119.21" y2="438.73" stroke="#000" stroke-width="1.0" stroke-linecap="butt"/>
<line x1="137.38" y1="438.73" x2="137.38" y2="440.50" stroke="#000" stroke-width="1.0" stroke-linecap="butt"/>
<line x1="135.28" y1="438.73" x2="139.48" y2="438.73" stroke="#000" stroke-width="1.0" stroke-linecap="butt"/>
<line x1="135.28" y1="440.50" x2="139.48" y2="440.50" stroke="#000" stroke-width="1.0" stroke-linecap="butt"/>
<line x1="157.65" y1="434.29" x2="157.65" y2="439.61" stroke="#000" stroke-width="1.0" stroke-linecap="butt"/>
<line x1="155.55" y1="434.29" x2="159.75" y2="434.29" stroke="#000" stroke-width="1.0" stroke-linecap="butt"/>
<line x1="155.55" y1="439.61" x2="159.75" y2="439.61" stroke="#000" stroke-width="1.0" stroke-linecap="butt"/>
<line x1="177.92" y1="440.06" x2="177.92" y2="440.94" stroke="#000" stroke-width="1.0" stroke-linecap="butt"/>
<line x1="175.82" y1="440.06" x2="180.02" y2="440.06" stroke="#000" stroke-width="1.0" stroke-linecap="butt"/>
<line x1="175.82" y1="440.94" x2="180.02" y2="440.94" stroke="#000" stroke-width="1.0" stroke-linecap="butt"/>
<line x1="198.19" y1="439.17" x2="198.19" y2="440.06" stroke="#000" stroke-width="1.0" stroke-linecap="butt"/>
<line x1="196.09" y1="439.17" x2="200.29" y2="439.17" stroke="#000" stroke-width="1.0" stroke-linecap="butt"/>
<line x1="196.09" y1="440.06" x2="200.29" y2="440.06" stroke="#000" stroke-width="1.0" stroke-linecap="butt"/>
<line x1="76.57" y1="422.22" x2="76.57" y2="434.64" stroke="#000" stroke-width="1.0" stroke-linecap="butt"/>
<line x1="74.47" y1="422.22" x2="78.67" y2="422.22" stroke="#000" stroke-width="1.0" stroke-linecap="butt"/>
<line x1="74.47" y1="434.64" x2="78.67" y2="434.64" stroke="#000" stroke-width="1.0" stroke-linecap="butt"/>
<line x1="96.84" y1="416.54" x2="96.84" y2="423.64" stroke="#000" stroke-width="1.0" stroke-linecap="butt"/>
<line x1="94.74" y1="416.54" x2="98.94" y2="416.54" stroke="#000" stroke-width="1.0" stroke-linecap="butt"/>
<line x1="94.74" y1="423.64" x2="98.94" y2="423.64" stroke="#000" stroke-width="1.0" stroke-linecap="butt"/>
<line x1="117.11" y1="394.35" x2="117.11" y2="410.32" stroke="#000" stroke-width="1.0" stroke-linecap="butt"/>
<line x1="115.01" y1="394.35" x2="119.21" y2="394.35" stroke="#000" stroke-width="1.0" stroke-linecap="butt"/>
<line x1="115.01" y1="410.32" x2="119.21" y2="410.32" stroke="#000" stroke-width="1.0" stroke-linecap="butt"/>
<line x1="137.38" y1="364.18" x2="137.38" y2="380.15" stroke="#000" stroke-width="1.0" stroke-linecap="butt"/>
<line x1="135.28" y1="364.18" x2="139.48" y2="364.18" stroke="#000" stroke-width="1.0" stroke-linecap="butt"/>
<line x1="135.28" y1="380.15" x2="139.48" y2="380.15" stroke="#000" stroke-width="1.0" stroke-linecap="butt"/>
<line x1="157.65" y1="352.11" x2="157.65" y2="368.08" stroke="#000" stroke-width="1.0" stroke-linecap="butt"/>
<line x1="155.55" y1="352.11" x2="159.75" y2="352.11" stroke="#000" stroke-width="1.0" stroke-linecap="butt"/>
<line x1="155.55" y1="368.08" x2="159.75" y2="368.08" stroke="#000" stroke-width="1.0" stroke-linecap="butt"/>
<line x1="177.92" y1="346.43" x2="177.92" y2="358.85" stroke="#000" stroke-width="1.0" stroke-linecap="butt"/>
<line x1="175.82" y1="346.43" x2="180.02" y2="346.43" stroke="#000" stroke-width="1.0" stroke-linecap="butt"/>
<line x1="175.82" y1="358.85" x2="180.02" y2="358.85" stroke="#000" stroke-width="1.0" stroke-linecap="butt"/>
<line x1="198.19" y1="338.44" x2="198.19" y2="349.09" stroke="#000" stroke-width="1.0" stroke-linecap="butt"/>
<line x1="196.09" y1="338.44" x2="200.29" y2="338.44" stroke="#000" stroke-width="1.0" stroke-linecap="butt"/>
<line x1="196.09" y1="349.09" x2="200.29" y2="349.09" stroke="#000" stroke-width="1.0" stroke-linecap="butt"/>
<line x1="76.57" y1="432.51" x2="76.57" y2="437.84" stroke="#000" stroke-width="1.0" stroke-linecap="butt"/>
<line x1="74.47" y1="432.51" x2="78.67" y2="432.51" stroke="#000" stroke-width="1.0" stroke-linecap="butt"/>
<line x1="74.47" y1="437.84" x2="78.67" y2="437.84" stroke="#000" stroke-width="1.0" stroke-linecap="butt"/>
<line x1="96.84" y1="429.85" x2="96.84" y2="436.95" stroke="#000" stroke-width="1.0" stroke-linecap="butt"/>
<line x1="94.74" y1="429.85" x2="98.94" y2="429.85" stroke="#000" stroke-width="1.0" stroke-linecap="butt"/>
<line x1="94.74" y1="436.95" x2="98.94" y2="436.95" stroke="#000" stroke-width="1.0" stroke-linecap="butt"/>
<line x1="117.11" y1="431.62" x2="117.11" y2="436.95" stroke="#000" stroke-width="1.0" stroke-linecap="butt"/>
<line x1="115.01" y1="431.62" x2="119.21" y2="431.62" stroke="#000" stroke-width="1.0" stroke-linecap="butt"/>
<line x1="115.01" y1="436.95" x2="119.21" y2="436.95" stroke="#000" stroke-width="1.0" stroke-linecap="butt"/>
<line x1="137.38" y1="417.43" x2="137.38" y2="424.52" stroke="#000" stroke-width="1.0" stroke-linecap="butt"/>
<line x1="135.28" y1="417.43" x2="139.48" y2="417.43" stroke="#000" stroke-width="1.0" stroke-linecap="butt"/>
<line x1="135.28" y1="424.52" x2="139.48" y2="424.52" stroke="#000" stroke-width="1.0" stroke-linecap="butt"/>
<line x1="157.65" y1="414.76" x2="157.65" y2="420.09" stroke="#000" stroke-width="1.0" stroke-linecap="butt"/>
<line x1="155.55" y1="414.76" x2="159.75" y2="414.76" stroke="#000" stroke-width="1.0" stroke-linecap="butt"/>
<line x1="155.55" y1="420.09" x2="159.75" y2="420.09" stroke="#000" stroke-width="1.0" stroke-linecap="butt"/>
<line x1="177.92" y1="393.46" x2="177.92" y2="409.44" stroke="#000" stroke-width="1.0" stroke-linecap="butt"/>
<line x1="175.82" y1="393.46" x2="180.02" y2="393.46" stroke="#000" stroke-width="1.0" stroke-linecap="butt"/>
<line x1="175.82" y1="409.44" x2="180.02" y2="409.44" stroke="#000" stroke-width="1.0" stroke-linecap="butt"/>
<line x1="198.19" y1="403.23" x2="198.19" y2="424.52" stroke="#000" stroke-width="1.0" stroke-linecap="butt"/>
<line x1="196.09" y1="403.23" x2="200.29" y2="403.23" stroke="#000" stroke-width="1.0" stroke-linecap="butt"/>
<line x1="196.09" y1="424.52" x2="200.29" y2="424.52" stroke="#000" stroke-width="1.0" stroke-linecap="butt"/>
<line x1="76.57" y1="431.62" x2="76.57" y2="436.95" stroke="#000" stroke-width="1.0" stroke-linecap="butt"/>
<line x1="74.47" y1="431.62" x2="78.67" y2="431.62" stroke="#000" stroke-width="1.0" stroke-linecap="butt"/>
<line x1="74.47" y1="436.95" x2="78.67" y2="436.95" stroke="#000" stroke-width="1.0" stroke-linecap="butt"/>
<line x1="96.84" y1="416.09" x2="96.84" y2="418.76" stroke="#000" stroke-width="1.0" stroke-linecap="butt"/>
<line x1="94.74" y1="416.09" x2="98.94" y2="416.09" stroke="#000" stroke-width="1.0" stroke-linecap="butt"/>
<line x1="94.74" y1="418.76" x2="98.94" y2="418.76" stroke="#000" stroke-width="1.0" stroke-linecap="butt"/>
<line x1="117.11" y1="407.22" x2="117.11" y2="409.88" stroke="#000" stroke-width="1.0" stroke-linecap="butt"/>
<line x1="115.01" y1="407.22" x2="119.21" y2="407.22" stroke="#000" stroke-width="1.0" stroke-linecap="butt"/>
<line x1="115.01" y1="409.88" x2="119.21" y2="409.88" stroke="#000" stroke-width="1.0" stroke-linecap="butt"/>
<line x1="137.38" y1="382.81" x2="137.38" y2="391.69" stroke="#000" stroke-width="1.0" stroke-linecap="butt"/>
<line x1="135.28" y1="382.81" x2="139.48" y2="382.81" stroke="#000" stroke-width="1.0" stroke-linecap="butt"/>
<line x1="135.28" y1="391.69" x2="139.48" y2="391.69" stroke="#000" stroke-width="1.0" stroke-linecap="butt"/>
<line x1="157.65" y1="370.39" x2="157.65" y2="382.81" stroke="#000" stroke-width="1.0" stroke-linecap="butt"/>
<line x1="155.55" y1="370.39" x2="159.75" y2="370.39" stroke="#000" stroke-width="1.0" stroke-linecap="butt"/>
<line x1="155.55" y1="382.81" x2="159.75" y2="382.81" stroke="#000" stroke-width="1.0" stroke-linecap="butt"/>
<line x1="177.92" y1="364.18" x2="177.92" y2="374.82" stroke="#000" stroke-width="1.0" stroke-linecap="butt"/>
<line x1="175.82" y1="364.18" x2="180.02" y2="364.18" stroke="#000" stroke-width="1.0" stroke-linecap="butt"/>
<line x1="175.82" y1="374.82" x2="180.02" y2="374.82" stroke="#000" stroke-width="1.0" stroke-linecap="butt"/>
<line x1="198.19" y1="349.98" x2="198.19" y2="360.62" stroke="#000" stroke-width="1.0" stroke-linecap="butt"/>
<line x1="196.09" y1="349.98" x2="200.29" y2="349.98" stroke="#000" stroke-width="1.0" stroke-linecap="butt"/>
<line x1="196.09" y1="360.62" x2="200.29" y2="360.62" stroke="#000" stroke-width="1.0" stroke-linecap="butt"/>
<line x1="76.57" y1="432.51" x2="76.57" y2="437.84" stroke="#000" stroke-width="1.0" stroke-linecap="butt"/>
<line x1="74.47" y1="432.51" x2="78.67" y2="432.51" stroke="#000" stroke-width="1.0" stroke-linecap="butt"/>
<line x1="74.47" y1="437.84" x2="78.67" y2="437.84" stroke="#000" stroke-width="1.0" stroke-linecap="butt"/>
<line x1="96.84" y1="417.43" x2="96.84" y2="428.07" stroke="#000" stroke-width="1.0" stroke-linecap="butt"/>
<line x1="94.74" y1="417.43" x2="98.94" y2="417.43" stroke="#000" stroke-width="1.0" stroke-linecap="butt"/>
<line x1="94.74" y1="428.07" x2="98.94" y2="428.07" stroke="#000" stroke-width="1.0" stroke-linecap="butt"/>
<line x1="117.11" y1="429.85" x2="117.11" y2="436.95" stroke="#000" stroke-width="1.0" stroke-linecap="butt"/>
<line x1="115.01" y1="429.85" x2="119.21" y2="429.85" stroke="#000" stroke-width="1.0" stroke-linecap="butt"/>
<line x1="115.01" y1="436.95" x2="119.21" y2="436.95" stroke="#000" stroke-width="1.0" stroke-linecap="butt"/>
<line x1="137.38" y1="410.77" x2="137.38" y2="421.42" stroke="#000" stroke-width="1.0" stroke-linecap="butt"/>
<line x1="135.28" y1="410.77" x2="139.48" y2="410.77" stroke="#000" stroke-width="1.0" stroke-linecap="butt"/>
<line x1="135.28" y1="421.42" x2="139.48" y2="421.42" stroke="#000" stroke-width="1.0" stroke-linecap="butt"/>
<line x1="157.65" y1="396.57" x2="157.65" y2="408.99" stroke="#000" stroke-width="1.0" stroke-linecap="butt"/>
<line x1="155.55" y1="396.57" x2="159.75" y2="396.57" stroke="#000" stroke-width="1.0" stroke-linecap="butt"/>
<line x1="155.55" y1="408.99" x2="159.75" y2="408.99" stroke="#000" stroke-width="1.0" stroke-linecap="butt"/>
<line x1="177.92" y1="377.49" x2="177.92" y2="395.24" stroke="#000" stroke-width="1.0" stroke-linecap="butt"/>
<line x1="175.82" y1="377.49" x2="180.02" y2="377.49" stroke="#000" stroke-width="1.0" stroke-linecap="butt"/>
<line x1="175.82" y1="395.24" x2="180.02" y2="395.24" stroke="#000" stroke-width="1.0" stroke-linecap="butt"/>
<line x1="198.19" y1="361.51" x2="198.19" y2="377.49" stroke="#000" stroke-width="1.0" stroke-linecap="butt"/>
<line x1="196.09" y1="361.51" x2="200.29" y2="361.51" stroke="#000" stroke-width="1.0" stroke-linecap="butt"/>
<line x1="196.09" y1="377.49" x2="200.29" y2="377.49" stroke="#000" stroke-width="1.0" stroke-linecap="butt"/>
<polyline points="56.30,440.50 76.57,436.06 96.84,439.61 117.11,436.95 137.38,439.61 157.65,436.95 177.92,440.50 198.19,439.61" fill="none" stroke="#000" stroke-width="1.25" stroke-linejoin="round"/>
<polyline points="56.30,440.50 76.57,428.43 96.84,420.09 117.11,402.34 137.38,372.16 157.65,360.09 177.92,352.64 198.19,343.76" fill="none" stroke="#000" stroke-width="1.25" stroke-linejoin="round"/>
<polyline points="56.30,440.50 76.57,435.18 96.84,433.40 117.11,434.29 137.38,420.98 157.65,417.43 177.92,401.45 198.19,413.88" fill="none" stroke="#000" stroke-width="1.25" stroke-linejoin="round"/>
<polyline points="56.30,440.50 76.57,434.29 96.84,417.43 117.11,408.55 137.38,387.25 157.65,376.60 177.92,369.50 198.19,355.30" fill="none" stroke="#000" stroke-width="1.25" stroke-linejoin="round"/>
<polyline points="56.30,440.50 76.57,435.18 96.84,422.75 117.11,433.40 137.38,416.09 157.65,402.78 177.92,386.36 198.19,369.50" fill="none" stroke="#000" stroke-width="1.25" stroke-linejoin="round"/>
<rect x="54.60" y="438.80" width="3.40" height="3.40" fill="#fff" stroke="#000" stroke-width="1.35"/>
<rect x="74.87" y="434.36" width="3.40" height="3.40" fill="#fff" stroke="#000" stroke-width="1.35"/>
<rect x="95.14" y="437.91" width="3.40" height="3.40" fill="#fff" stroke="#000" stroke-width="1.35"/>
<rect x="115.41" y="435.25" width="3.40" height="3.40" fill="#fff" stroke="#000" stroke-width="1.35"/>
<rect x="135.68" y="437.91" width="3.40" height="3.40" fill="#fff" stroke="#000" stroke-width="1.35"/>
<rect x="155.95" y="435.25" width="3.40" height="3.40" fill="#fff" stroke="#000" stroke-width="1.35"/>
<rect x="176.22" y="438.80" width="3.40" height="3.40" fill="#fff" stroke="#000" stroke-width="1.35"/>
<rect x="196.49" y="437.91" width="3.40" height="3.40" fill="#fff" stroke="#000" stroke-width="1.35"/>
<rect x="54.20" y="438.40" width="4.20" height="4.20" fill="#000"/>
<rect x="74.47" y="426.33" width="4.20" height="4.20" fill="#000"/>
<rect x="94.74" y="417.99" width="4.20" height="4.20" fill="#000"/>
<rect x="115.01" y="400.24" width="4.20" height="4.20" fill="#000"/>
<rect x="135.28" y="370.06" width="4.20" height="4.20" fill="#000"/>
<rect x="155.55" y="357.99" width="4.20" height="4.20" fill="#000"/>
<rect x="175.82" y="350.54" width="4.20" height="4.20" fill="#000"/>
<rect x="196.09" y="341.66" width="4.20" height="4.20" fill="#000"/>
<polygon points="56.30,438.10 58.70,440.50 56.30,442.90 53.90,440.50" fill="#000" stroke="#000" stroke-width="0.6" stroke-linejoin="round"/>
<polygon points="76.57,432.78 78.97,435.18 76.57,437.57 74.17,435.18" fill="#000" stroke="#000" stroke-width="0.6" stroke-linejoin="round"/>
<polygon points="96.84,431.00 99.24,433.40 96.84,435.80 94.44,433.40" fill="#000" stroke="#000" stroke-width="0.6" stroke-linejoin="round"/>
<polygon points="117.11,431.89 119.51,434.29 117.11,436.69 114.71,434.29" fill="#000" stroke="#000" stroke-width="0.6" stroke-linejoin="round"/>
<polygon points="137.38,418.58 139.78,420.98 137.38,423.38 134.98,420.98" fill="#000" stroke="#000" stroke-width="0.6" stroke-linejoin="round"/>
<polygon points="157.65,415.03 160.05,417.43 157.65,419.82 155.25,417.43" fill="#000" stroke="#000" stroke-width="0.6" stroke-linejoin="round"/>
<polygon points="177.92,399.05 180.32,401.45 177.92,403.85 175.52,401.45" fill="#000" stroke="#000" stroke-width="0.6" stroke-linejoin="round"/>
<polygon points="198.19,411.48 200.59,413.88 198.19,416.27 195.79,413.88" fill="#000" stroke="#000" stroke-width="0.6" stroke-linejoin="round"/>
<circle cx="56.30" cy="440.50" r="1.80" fill="#fff" stroke="#000" stroke-width="1.35"/>
<circle cx="76.57" cy="434.29" r="1.80" fill="#fff" stroke="#000" stroke-width="1.35"/>
<circle cx="96.84" cy="417.43" r="1.80" fill="#fff" stroke="#000" stroke-width="1.35"/>
<circle cx="117.11" cy="408.55" r="1.80" fill="#fff" stroke="#000" stroke-width="1.35"/>
<circle cx="137.38" cy="387.25" r="1.80" fill="#fff" stroke="#000" stroke-width="1.35"/>
<circle cx="157.65" cy="376.60" r="1.80" fill="#fff" stroke="#000" stroke-width="1.35"/>
<circle cx="177.92" cy="369.50" r="1.80" fill="#fff" stroke="#000" stroke-width="1.35"/>
<circle cx="198.19" cy="355.30" r="1.80" fill="#fff" stroke="#000" stroke-width="1.35"/>
<polygon points="56.30,438.30 58.50,442.15 54.10,442.15" fill="#fff" stroke="#000" stroke-width="1.05" stroke-linejoin="miter"/>
<polygon points="76.57,432.98 78.77,436.82 74.37,436.82" fill="#fff" stroke="#000" stroke-width="1.05" stroke-linejoin="miter"/>
<polygon points="96.84,420.55 99.04,424.40 94.64,424.40" fill="#fff" stroke="#000" stroke-width="1.05" stroke-linejoin="miter"/>
<polygon points="117.11,431.20 119.31,435.05 114.91,435.05" fill="#fff" stroke="#000" stroke-width="1.05" stroke-linejoin="miter"/>
<polygon points="137.38,413.89 139.58,417.74 135.18,417.74" fill="#fff" stroke="#000" stroke-width="1.05" stroke-linejoin="miter"/>
<polygon points="157.65,400.58 159.85,404.43 155.45,404.43" fill="#fff" stroke="#000" stroke-width="1.05" stroke-linejoin="miter"/>
<polygon points="177.92,384.16 180.12,388.01 175.72,388.01" fill="#fff" stroke="#000" stroke-width="1.05" stroke-linejoin="miter"/>
<polygon points="198.19,367.30 200.39,371.15 195.99,371.15" fill="#fff" stroke="#000" stroke-width="1.05" stroke-linejoin="miter"/>
<text x="117.11" y="391.00" font-size="7.0" font-weight="bold" text-anchor="middle" fill="#000" stroke="#000" stroke-width="0.4" stroke-linejoin="round">#</text>
<text x="137.38" y="361.60" font-size="7.0" font-weight="bold" text-anchor="middle" fill="#000" stroke="#000" stroke-width="0.4" stroke-linejoin="round">#</text>
<text x="157.65" y="350.20" font-size="7.0" font-weight="bold" text-anchor="middle" fill="#000" stroke="#000" stroke-width="0.4" stroke-linejoin="round">#</text>
<text x="177.92" y="344.50" font-size="7.0" font-weight="bold" text-anchor="middle" fill="#000" stroke="#000" stroke-width="0.4" stroke-linejoin="round">#</text>
<text x="198.19" y="336.20" font-size="7.0" font-weight="bold" text-anchor="middle" fill="#000" stroke="#000" stroke-width="0.4" stroke-linejoin="round">#</text>
<circle cx="117.10" cy="425.00" r="1.05" fill="#000"/>
<circle cx="122.50" cy="434.00" r="1.05" fill="#000"/>
<circle cx="137.40" cy="406.50" r="1.05" fill="#000"/>
<circle cx="137.40" cy="426.00" r="1.05" fill="#000"/>
<circle cx="157.60" cy="392.00" r="1.05" fill="#000"/>
<circle cx="157.60" cy="412.00" r="1.05" fill="#000"/>
<circle cx="182.60" cy="386.00" r="1.05" fill="#000"/>
<circle cx="177.90" cy="413.50" r="1.05" fill="#000"/>
<circle cx="198.20" cy="399.00" r="1.05" fill="#000"/>
<polyline points="202.8,369.7 207.5,369.7 207.5,413.3 202.8,413.3" fill="none" stroke="#000" stroke-width="1.25"/>
<text x="210.90" y="394.30" font-size="6.5" font-weight="normal" text-anchor="middle" fill="#000" style="font-family:'Liberation Serif',serif">Δ</text>
<text x="251.00" y="11.40" font-size="14.5" font-weight="normal" text-anchor="start" fill="#000" stroke="#000" stroke-width="0.3" stroke-linejoin="round">C</text>
<rect x="267.60" y="18.00" width="8.00" height="8.00" fill="#ffffff" stroke="#111" stroke-width="1.3"/>
<text y="25.05" font-size="9.2" font-weight="bold" fill="#000" stroke="#000" stroke-width="0.5" stroke-linejoin="round"><tspan x="278.28" textLength="33.07" lengthAdjust="spacingAndGlyphs">Control</tspan></text>
<rect x="267.60" y="29.80" width="8.00" height="8.10" fill="#000000" stroke="#111" stroke-width="1.3"/>
<text y="37.40" font-size="9.2" font-weight="bold" fill="#000" stroke="#000" stroke-width="0.5" stroke-linejoin="round"><tspan x="278.13" textLength="16.51" lengthAdjust="spacingAndGlyphs">DSS</tspan> <tspan x="297.73" textLength="12.43" lengthAdjust="spacingAndGlyphs">3%</tspan></text>
<rect x="267.60" y="42.10" width="8.00" height="7.90" fill="#dedede" stroke="#111" stroke-width="1.3"/>
<text y="49.80" font-size="9.2" font-weight="bold" fill="#000" stroke="#000" stroke-width="0.5" stroke-linejoin="round"><tspan x="278.33" textLength="4.63" lengthAdjust="spacingAndGlyphs">+</tspan> <tspan x="283.42" textLength="37.89" lengthAdjust="spacingAndGlyphs">AT-RvD1</tspan> <tspan x="324.29" textLength="15.91" lengthAdjust="spacingAndGlyphs">(0.3</tspan> <tspan x="343.37" textLength="15.27" lengthAdjust="spacingAndGlyphs">µg/</tspan><tspan x="359.16" textLength="30.67" lengthAdjust="spacingAndGlyphs">animal,</tspan> <tspan x="392.95" textLength="19.48" lengthAdjust="spacingAndGlyphs">e.v.)</tspan></text>
<rect x="267.60" y="54.30" width="8.00" height="7.50" fill="#a2a2a2" stroke="#111" stroke-width="1.3"/>
<text y="61.85" font-size="9.2" font-weight="bold" fill="#000" stroke="#000" stroke-width="0.5" stroke-linejoin="round"><tspan x="278.33" textLength="4.63" lengthAdjust="spacingAndGlyphs">+</tspan> <tspan x="283.08" textLength="27.10" lengthAdjust="spacingAndGlyphs">BOC-1</tspan> <tspan x="313.08" textLength="8.34" lengthAdjust="spacingAndGlyphs">(2</tspan> <tspan x="323.89" textLength="17.95" lengthAdjust="spacingAndGlyphs">mg/</tspan><tspan x="341.90" textLength="11.72" lengthAdjust="spacingAndGlyphs">kg,</tspan> <tspan x="356.66" textLength="18.74" lengthAdjust="spacingAndGlyphs">e.v.)</tspan></text>
<rect x="267.60" y="66.40" width="8.00" height="7.40" fill="#595959" stroke="#111" stroke-width="1.3"/>
<text y="74.10" font-size="9.2" font-weight="bold" fill="#000" stroke="#000" stroke-width="0.5" stroke-linejoin="round"><tspan x="278.33" textLength="4.63" lengthAdjust="spacingAndGlyphs">+</tspan> <tspan x="283.08" textLength="27.10" lengthAdjust="spacingAndGlyphs">BOC-1</tspan> <tspan x="313.08" textLength="8.34" lengthAdjust="spacingAndGlyphs">(2</tspan> <tspan x="323.89" textLength="17.95" lengthAdjust="spacingAndGlyphs">mg/</tspan><tspan x="341.90" textLength="11.72" lengthAdjust="spacingAndGlyphs">kg,</tspan> <tspan x="356.66" textLength="18.74" lengthAdjust="spacingAndGlyphs">e.v.)</tspan> <tspan x="378.86" textLength="4.16" lengthAdjust="spacingAndGlyphs">+</tspan> <tspan x="385.42" textLength="37.79" lengthAdjust="spacingAndGlyphs">AT-RvD1</tspan> <tspan x="426.09" textLength="15.70" lengthAdjust="spacingAndGlyphs">(0.3</tspan> <tspan x="444.64" textLength="15.95" lengthAdjust="spacingAndGlyphs">µg/</tspan><tspan x="461.13" textLength="32.04" lengthAdjust="spacingAndGlyphs">animal,</tspan> <tspan x="496.16" textLength="18.95" lengthAdjust="spacingAndGlyphs">e.v.)</tspan></text>
<line x1="297.00" y1="87.74" x2="297.00" y2="222.50" stroke="#000" stroke-width="1.2" stroke-linecap="butt"/>
<line x1="295.20" y1="222.00" x2="297.00" y2="222.00" stroke="#000" stroke-width="1.0" stroke-linecap="butt"/>
<text x="294.30" y="224.60" font-size="7.3" font-weight="bold" text-anchor="end" fill="#000" stroke="#000" stroke-width="0.5" stroke-linejoin="round">0</text>
<line x1="295.20" y1="188.56" x2="297.00" y2="188.56" stroke="#000" stroke-width="1.0" stroke-linecap="butt"/>
<text x="294.30" y="191.16" font-size="7.3" font-weight="bold" text-anchor="end" fill="#000" stroke="#000" stroke-width="0.5" stroke-linejoin="round">2</text>
<line x1="295.20" y1="155.12" x2="297.00" y2="155.12" stroke="#000" stroke-width="1.0" stroke-linecap="butt"/>
<text x="294.30" y="157.72" font-size="7.3" font-weight="bold" text-anchor="end" fill="#000" stroke="#000" stroke-width="0.5" stroke-linejoin="round">4</text>
<line x1="295.20" y1="121.68" x2="297.00" y2="121.68" stroke="#000" stroke-width="1.0" stroke-linecap="butt"/>
<text x="294.30" y="124.28" font-size="7.3" font-weight="bold" text-anchor="end" fill="#000" stroke="#000" stroke-width="0.5" stroke-linejoin="round">6</text>
<line x1="295.20" y1="88.24" x2="297.00" y2="88.24" stroke="#000" stroke-width="1.0" stroke-linecap="butt"/>
<text x="294.30" y="90.84" font-size="7.3" font-weight="bold" text-anchor="end" fill="#000" stroke="#000" stroke-width="0.5" stroke-linejoin="round">8</text>
<line x1="304.20" y1="228.90" x2="518.60" y2="228.90" stroke="#000" stroke-width="1.4" stroke-linecap="butt"/>
<text transform="translate(276.30,153.10) rotate(-90)" font-size="8.8" font-weight="bold" text-anchor="middle" fill="#000" stroke="#000" stroke-width="0.5" stroke-linejoin="round" textLength="89.30" lengthAdjust="spacingAndGlyphs">Macroscopic damage</text>
<line x1="326.00" y1="210.80" x2="326.00" y2="214.98" stroke="#000" stroke-width="1.0" stroke-linecap="butt"/>
<line x1="318.80" y1="210.80" x2="333.20" y2="210.80" stroke="#000" stroke-width="1.0" stroke-linecap="butt"/>
<rect x="311.70" y="214.98" width="28.60" height="7.42" fill="#ffffff" stroke="#000" stroke-width="1.2"/>
<line x1="368.80" y1="111.98" x2="368.80" y2="118.34" stroke="#000" stroke-width="1.0" stroke-linecap="butt"/>
<line x1="361.60" y1="111.98" x2="376.00" y2="111.98" stroke="#000" stroke-width="1.0" stroke-linecap="butt"/>
<rect x="354.50" y="118.34" width="28.60" height="104.06" fill="#000000" stroke="#000" stroke-width="1.2"/>
<line x1="411.60" y1="175.18" x2="411.60" y2="181.87" stroke="#000" stroke-width="1.0" stroke-linecap="butt"/>
<line x1="404.40" y1="175.18" x2="418.80" y2="175.18" stroke="#000" stroke-width="1.0" stroke-linecap="butt"/>
<rect x="397.30" y="181.87" width="28.60" height="40.53" fill="#dedede" stroke="#000" stroke-width="1.2"/>
<line x1="454.50" y1="110.31" x2="454.50" y2="116.66" stroke="#000" stroke-width="1.0" stroke-linecap="butt"/>
<line x1="447.30" y1="110.31" x2="461.70" y2="110.31" stroke="#000" stroke-width="1.0" stroke-linecap="butt"/>
<rect x="440.20" y="116.66" width="28.60" height="105.74" fill="#a2a2a2" stroke="#000" stroke-width="1.2"/>
<line x1="497.30" y1="124.86" x2="497.30" y2="131.88" stroke="#000" stroke-width="1.0" stroke-linecap="butt"/>
<line x1="490.10" y1="124.86" x2="504.50" y2="124.86" stroke="#000" stroke-width="1.0" stroke-linecap="butt"/>
<rect x="483.00" y="131.88" width="28.60" height="90.52" fill="#595959" stroke="#000" stroke-width="1.2"/>
<text x="368.80" y="109.60" font-size="7.6" font-weight="bold" text-anchor="middle" fill="#000" stroke="#000" stroke-width="0.55" stroke-linejoin="round">#</text>
<text x="455.00" y="108.20" font-size="7.6" font-weight="bold" text-anchor="middle" fill="#000" stroke="#000" stroke-width="0.55" stroke-linejoin="round">#</text>
<text x="497.30" y="122.40" font-size="7.6" font-weight="bold" text-anchor="middle" fill="#000" stroke="#000" stroke-width="0.55" stroke-linejoin="round">#</text>
<circle cx="411.20" cy="170.50" r="1.2" fill="#000"/>
<polyline points="412.3,131.3 412.3,96.3 496.8,96.3 496.8,103.2" fill="none" stroke="#000" stroke-width="1.25"/>
<text x="455.40" y="94.30" font-size="6.5" font-weight="normal" text-anchor="middle" fill="#000" style="font-family:'Liberation Serif',serif">Δ</text>
<line x1="352.00" y1="235.40" x2="518.60" y2="235.40" stroke="#000" stroke-width="1.2" stroke-linecap="butt"/>
<line x1="352.20" y1="232.50" x2="352.20" y2="238.90" stroke="#000" stroke-width="1.2" stroke-linecap="butt"/>
<line x1="518.30" y1="232.50" x2="518.30" y2="238.90" stroke="#000" stroke-width="1.2" stroke-linecap="butt"/>
<text y="246.40" font-size="9.2" font-weight="bold" fill="#000" stroke="#000" stroke-width="0.5" stroke-linejoin="round"><tspan x="416.52" textLength="16.72" lengthAdjust="spacingAndGlyphs">DSS</tspan> <tspan x="436.18" textLength="12.90" lengthAdjust="spacingAndGlyphs">3%</tspan></text>
<text x="250.80" y="254.00" font-size="14.5" font-weight="normal" text-anchor="start" fill="#000" stroke="#000" stroke-width="0.3" stroke-linejoin="round">D</text>
<rect x="267.00" y="261.00" width="8.00" height="8.00" fill="#ffffff" stroke="#111" stroke-width="1.3"/>
<text y="268.05" font-size="9.2" font-weight="bold" fill="#000" stroke="#000" stroke-width="0.5" stroke-linejoin="round"><tspan x="277.68" textLength="32.96" lengthAdjust="spacingAndGlyphs">Control</tspan></text>
<rect x="267.00" y="273.20" width="8.00" height="7.80" fill="#000000" stroke="#111" stroke-width="1.3"/>
<text y="280.40" font-size="9.2" font-weight="bold" fill="#000" stroke="#000" stroke-width="0.5" stroke-linejoin="round"><tspan x="277.52" textLength="16.72" lengthAdjust="spacingAndGlyphs">DSS</tspan> <tspan x="297.34" textLength="12.23" lengthAdjust="spacingAndGlyphs">3%</tspan></text>
<rect x="267.00" y="285.10" width="8.00" height="7.90" fill="#dedede" stroke="#111" stroke-width="1.3"/>
<text y="292.80" font-size="9.2" font-weight="bold" fill="#000" stroke="#000" stroke-width="0.5" stroke-linejoin="round"><tspan x="277.73" textLength="4.63" lengthAdjust="spacingAndGlyphs">+</tspan> <tspan x="283.02" textLength="37.59" lengthAdjust="spacingAndGlyphs">AT-RvD1</tspan> <tspan x="323.69" textLength="15.81" lengthAdjust="spacingAndGlyphs">(0.3</tspan> <tspan x="342.36" textLength="15.61" lengthAdjust="spacingAndGlyphs">µg/</tspan><tspan x="358.49" textLength="31.35" lengthAdjust="spacingAndGlyphs">animal,</tspan> <tspan x="392.30" textLength="19.43" lengthAdjust="spacingAndGlyphs">e.v.)</tspan></text>
<rect x="267.00" y="297.70" width="8.00" height="7.70" fill="#a2a2a2" stroke="#111" stroke-width="1.3"/>
<text y="305.10" font-size="9.2" font-weight="bold" fill="#000" stroke="#000" stroke-width="0.5" stroke-linejoin="round"><tspan x="277.73" textLength="4.63" lengthAdjust="spacingAndGlyphs">+</tspan> <tspan x="282.69" textLength="26.89" lengthAdjust="spacingAndGlyphs">BOC-1</tspan> <tspan x="312.38" textLength="8.34" lengthAdjust="spacingAndGlyphs">(2</tspan> <tspan x="323.29" textLength="18.01" lengthAdjust="spacingAndGlyphs">mg/</tspan><tspan x="341.36" textLength="11.76" lengthAdjust="spacingAndGlyphs">kg,</tspan> <tspan x="355.95" textLength="19.06" lengthAdjust="spacingAndGlyphs">e.v.)</tspan></text>
<rect x="267.00" y="310.10" width="8.00" height="7.90" fill="#595959" stroke="#111" stroke-width="1.3"/>
<text y="317.90" font-size="9.2" font-weight="bold" fill="#000" stroke="#000" stroke-width="0.5" stroke-linejoin="round"><tspan x="277.73" textLength="4.63" lengthAdjust="spacingAndGlyphs">+</tspan> <tspan x="282.69" textLength="26.89" lengthAdjust="spacingAndGlyphs">BOC-1</tspan> <tspan x="312.38" textLength="8.34" lengthAdjust="spacingAndGlyphs">(2</tspan> <tspan x="323.29" textLength="18.01" lengthAdjust="spacingAndGlyphs">mg/</tspan><tspan x="341.36" textLength="11.76" lengthAdjust="spacingAndGlyphs">kg,</tspan> <tspan x="355.95" textLength="19.06" lengthAdjust="spacingAndGlyphs">e.v.)</tspan> <tspan x="378.16" textLength="4.16" lengthAdjust="spacingAndGlyphs">+</tspan> <tspan x="384.72" textLength="37.59" lengthAdjust="spacingAndGlyphs">AT-RvD1</tspan> <tspan x="425.39" textLength="15.86" lengthAdjust="spacingAndGlyphs">(0.3</tspan> <tspan x="444.24" textLength="15.95" lengthAdjust="spacingAndGlyphs">µg/</tspan><tspan x="460.73" textLength="32.04" lengthAdjust="spacingAndGlyphs">animal,</tspan> <tspan x="495.45" textLength="19.27" lengthAdjust="spacingAndGlyphs">e.v.)</tspan></text>
<line x1="296.70" y1="330.78" x2="296.70" y2="465.10" stroke="#000" stroke-width="1.2" stroke-linecap="butt"/>
<line x1="294.90" y1="464.60" x2="296.70" y2="464.60" stroke="#000" stroke-width="1.0" stroke-linecap="butt"/>
<text x="294.00" y="467.20" font-size="7.3" font-weight="bold" text-anchor="end" fill="#000" stroke="#000" stroke-width="0.5" stroke-linejoin="round">0</text>
<line x1="294.90" y1="397.94" x2="296.70" y2="397.94" stroke="#000" stroke-width="1.0" stroke-linecap="butt"/>
<text x="294.00" y="400.54" font-size="7.3" font-weight="bold" text-anchor="end" fill="#000" stroke="#000" stroke-width="0.5" stroke-linejoin="round">6</text>
<line x1="294.90" y1="331.28" x2="296.70" y2="331.28" stroke="#000" stroke-width="1.0" stroke-linecap="butt"/>
<text x="294.00" y="333.88" font-size="7.3" font-weight="bold" text-anchor="end" fill="#000" stroke="#000" stroke-width="0.5" stroke-linejoin="round">12</text>
<line x1="304.20" y1="472.20" x2="518.60" y2="472.20" stroke="#000" stroke-width="1.4" stroke-linecap="butt"/>
<text transform="translate(275.10,395.80) rotate(-90)" font-size="8.8" font-weight="bold" text-anchor="middle" fill="#000" stroke="#000" stroke-width="0.5" stroke-linejoin="round" textLength="76.00" lengthAdjust="spacingAndGlyphs">Colon lenght (cm)</text>
<line x1="324.80" y1="338.83" x2="324.80" y2="342.95" stroke="#000" stroke-width="1.0" stroke-linecap="butt"/>
<line x1="317.60" y1="338.83" x2="332.00" y2="338.83" stroke="#000" stroke-width="1.0" stroke-linecap="butt"/>
<rect x="310.50" y="342.95" width="28.60" height="122.15" fill="#ffffff" stroke="#000" stroke-width="1.2"/>
<line x1="368.10" y1="380.28" x2="368.10" y2="385.50" stroke="#000" stroke-width="1.0" stroke-linecap="butt"/>
<line x1="360.90" y1="380.28" x2="375.30" y2="380.28" stroke="#000" stroke-width="1.0" stroke-linecap="butt"/>
<rect x="353.80" y="385.50" width="28.60" height="79.60" fill="#000000" stroke="#000" stroke-width="1.2"/>
<line x1="410.80" y1="358.83" x2="410.80" y2="362.50" stroke="#000" stroke-width="1.0" stroke-linecap="butt"/>
<line x1="403.60" y1="358.83" x2="418.00" y2="358.83" stroke="#000" stroke-width="1.0" stroke-linecap="butt"/>
<rect x="396.50" y="362.50" width="28.60" height="102.60" fill="#dedede" stroke="#000" stroke-width="1.2"/>
<line x1="453.70" y1="375.50" x2="453.70" y2="378.05" stroke="#000" stroke-width="1.0" stroke-linecap="butt"/>
<line x1="446.50" y1="375.50" x2="460.90" y2="375.50" stroke="#000" stroke-width="1.0" stroke-linecap="butt"/>
<rect x="439.40" y="378.05" width="28.60" height="87.05" fill="#a2a2a2" stroke="#000" stroke-width="1.2"/>
<line x1="496.50" y1="380.16" x2="496.50" y2="383.50" stroke="#000" stroke-width="1.0" stroke-linecap="butt"/>
<line x1="489.30" y1="380.16" x2="503.70" y2="380.16" stroke="#000" stroke-width="1.0" stroke-linecap="butt"/>
<rect x="482.20" y="383.50" width="28.60" height="81.60" fill="#595959" stroke="#000" stroke-width="1.2"/>
<text x="368.30" y="377.40" font-size="7.6" font-weight="bold" text-anchor="middle" fill="#000" stroke="#000" stroke-width="0.55" stroke-linejoin="round">#</text>
<text x="454.00" y="373.60" font-size="7.6" font-weight="bold" text-anchor="middle" fill="#000" stroke="#000" stroke-width="0.55" stroke-linejoin="round">#</text>
<text x="497.20" y="377.40" font-size="7.6" font-weight="bold" text-anchor="middle" fill="#000" stroke="#000" stroke-width="0.55" stroke-linejoin="round">#</text>
<circle cx="410.60" cy="355.00" r="1.2" fill="#000"/>
<polyline points="410.4,348.7 410.4,342.0 497.2,342.0 497.2,348.7" fill="none" stroke="#000" stroke-width="1.25"/>
<text x="454.70" y="339.50" font-size="6.5" font-weight="normal" text-anchor="middle" fill="#000" style="font-family:'Liberation Serif',serif">Δ</text>
<line x1="351.50" y1="478.90" x2="518.60" y2="478.90" stroke="#000" stroke-width="1.2" stroke-linecap="butt"/>
<line x1="351.70" y1="475.80" x2="351.70" y2="482.00" stroke="#000" stroke-width="1.2" stroke-linecap="butt"/>
<line x1="518.30" y1="475.80" x2="518.30" y2="482.00" stroke="#000" stroke-width="1.2" stroke-linecap="butt"/>
<text y="489.80" font-size="9.2" font-weight="bold" fill="#000" stroke="#000" stroke-width="0.5" stroke-linejoin="round"><tspan x="416.12" textLength="16.78" lengthAdjust="spacingAndGlyphs">DSS</tspan> <tspan x="435.93" textLength="12.64" lengthAdjust="spacingAndGlyphs">3%</tspan></text>
</svg>
</body>
</html>
